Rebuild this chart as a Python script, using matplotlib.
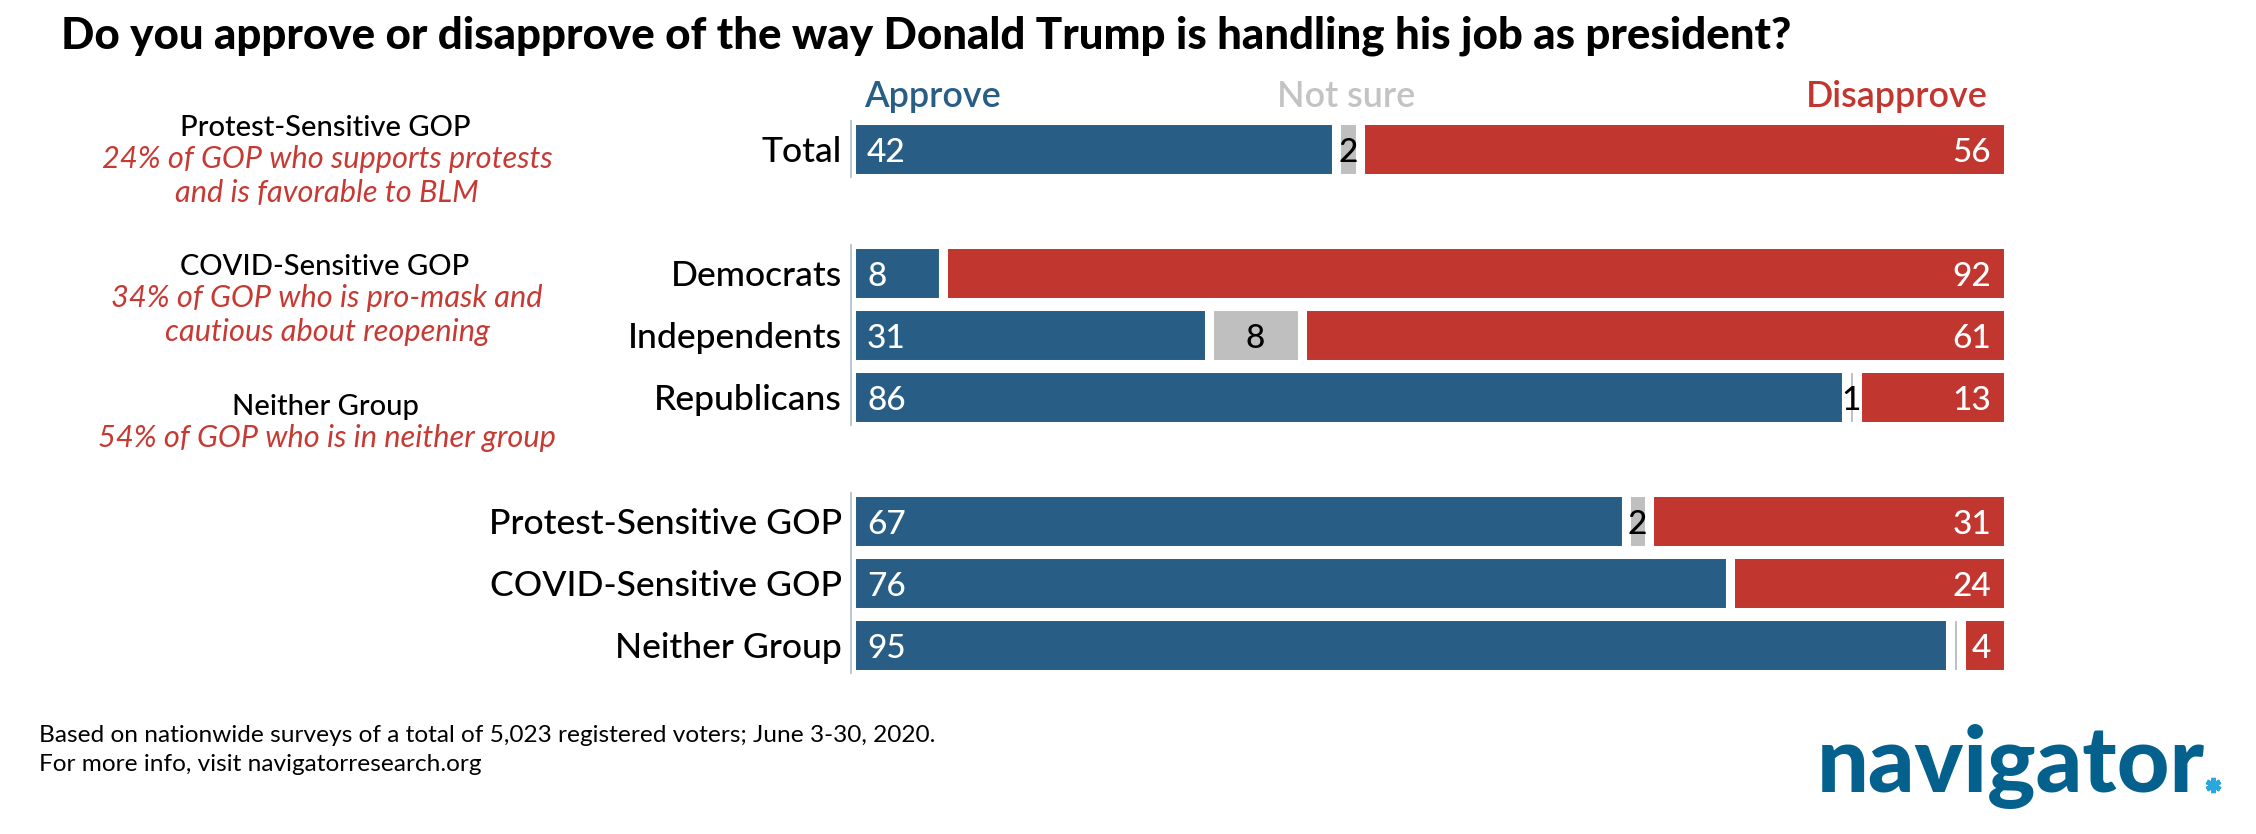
import matplotlib
matplotlib.use("Agg")
import matplotlib.pyplot as plt
from matplotlib.lines import Line2D

# ---------------- data ----------------
title = "Do you approve or disapprove of the way Donald Trump is handling his job as president?"
groups = [
    ["Total"],
    ["Democrats", "Independents", "Republicans"],
    ["Protest-Sensitive GOP", "COVID-Sensitive GOP", "Neither Group"],
]
approve = [42, 8, 31, 86, 67, 76, 95]
not_sure = [2, 0, 8, 1, 2, 0, 1]
disapprove = [56, 92, 61, 13, 31, 24, 4]
notsure_labels = ["2", "", "8", "1", "2", "", ""]
series_names = ["Approve", "Not sure", "Disapprove"]

notes = [
    ("Protest-Sensitive GOP", ["24% of GOP who supports protests", "and is favorable to BLM"]),
    ("COVID-Sensitive GOP", ["34% of GOP who is pro-mask and", "cautious about reopening"]),
    ("Neither Group", ["54% of GOP who is in neither group"]),
]
footnotes = [
    "Based on nationwide surveys of a total of 5,023 registered voters; June 3-30, 2020.",
    "For more info, visit navigatorresearch.org",
]
logo_text = "navigator"

# ---------------- style ----------------
BLUE = "#285E86"
RED = "#C1362F"
GRAY = "#BFBFBF"
NOTE_RED = "#C73A34"
LOGO_BLUE = "#04608C"
LOGO_STAR = "#29A8DF"
FONT = "Lato"

W, H = 2256, 834
fig = plt.figure(figsize=(W / 100, H / 100), dpi=100)
fig.patch.set_facecolor("white")


def fx(x):
    return x / W


def fy(y):
    return 1 - y / H


renderer = fig.canvas.get_renderer()


def fit(t, width):
    for _ in range(3):
        bb = t.get_window_extent(renderer)
        t.set_fontsize(t.get_fontsize() * width / bb.width)
    return t.get_fontsize()


# row positions derived from group structure (one empty row between groups)
categories, ypos = [], []
r = 0
for g in groups:
    for c in g:
        categories.append(c)
        ypos.append(r)
        r += 1
    r += 1
last_row = ypos[-1]

# axes: data 0..100 spans the bar area
ax_left, ax_right = 850.5, 2007.5
row_px = 62
top_px = 149 - row_px / 2
bot_px = top_px + row_px * (last_row + 1)
ax = fig.add_axes([fx(ax_left), fy(bot_px), (ax_right - ax_left) / W, (bot_px - top_px) / H])
ax.set_xlim(0, 100)
ax.set_ylim(last_row + 0.5, -0.5)
ax.axis("off")

bh = 0.92
lw = 6.5
left2 = [a + n for a, n in zip(approve, not_sure)]
ax.barh(ypos, approve, left=0, height=bh, color=BLUE, edgecolor="white", linewidth=lw, zorder=2)
ax.barh(ypos, not_sure, left=approve, height=bh, color=GRAY, edgecolor="white", linewidth=lw, zorder=2)
ax.barh(ypos, disapprove, left=left2, height=bh, color=RED, edgecolor="white", linewidth=lw, zorder=2)

# vertical axis line per group
i = 0
for g in groups:
    first = ypos[i]
    last = ypos[i + len(g) - 1]
    ax.plot([0, 0], [first - 0.45, last + 0.45], color="#B4C3CF", lw=1.3,
            clip_on=False, zorder=5)
    i += len(g)

px = 100 / (ax_right - ax_left)  # data units per pixel
val_fs = 24
base_off = 0.215
for k, y in enumerate(ypos):
    ax.text(16.5 * px, y + base_off, str(approve[k]), ha="left", va="baseline",
            color="white", fontsize=val_fs, family=FONT, weight="medium", zorder=6)
    ax.text(100 - 16.5 * px, y + base_off, str(disapprove[k]), ha="right", va="baseline",
            color="white", fontsize=val_fs, family=FONT, weight="medium", zorder=6)
    if notsure_labels[k]:
        ax.text(approve[k] + not_sure[k] / 2, y + base_off, notsure_labels[k], ha="center",
                va="baseline", color="black", fontsize=val_fs, family=FONT,
                weight="medium", zorder=6)

# category labels
cat_texts = []
for k, y in enumerate(ypos):
    t = ax.text(-8.5 * px, y + 0.21, categories[k], ha="right", va="baseline",
                color="black", fontsize=26, family=FONT, weight="medium")
    cat_texts.append(t)
cfs = fit(cat_texts[4], 353)
for t in cat_texts:
    t.set_fontsize(cfs)

# title
tt = fig.text(fx(61), fy(48), title, ha="left", va="baseline", fontsize=30,
              family=FONT, weight="black", color="black")
fit(tt, 1736)

# series headers
h_ap = fig.text(fx(864), fy(107), series_names[0], ha="left", va="baseline",
                color=BLUE, family=FONT, weight="semibold", fontsize=24)
h_ns = fig.text(fx(1346), fy(107), series_names[1], ha="center", va="baseline",
                color="#C3C3C3", family=FONT, weight="semibold", fontsize=24)
h_di = fig.text(fx(1988), fy(107), series_names[2], ha="right", va="baseline",
                color=RED, family=FONT, weight="semibold", fontsize=24)
hfs = fit(h_ns, 138)
h_ap.set_fontsize(hfs)
h_di.set_fontsize(hfs)

# left notes
block_base = [136, 275, 415]
note_heads, note_subs = [], []
for b, (head, subs) in zip(block_base, notes):
    t = fig.text(fx(325), fy(b), head, ha="center", va="baseline", color="black",
                 family=FONT, weight="medium", fontsize=20)
    note_heads.append(t)
    for j, s in enumerate(subs):
        t2 = fig.text(fx(327), fy(b + 32 + 34 * j), s, ha="center", va="baseline",
                      color=NOTE_RED, family=FONT, style="italic", fontsize=20)
        note_subs.append(t2)
nh = fit(note_heads[0], 291)
for t in note_heads:
    t.set_fontsize(nh)
ns = fit(note_subs[0], 450)
for t in note_subs:
    t.set_fontsize(ns)

# footnotes
f1 = fig.text(fx(39), fy(742), footnotes[0], ha="left", va="baseline",
              color="black", family=FONT, fontsize=16)
f2 = fig.text(fx(39), fy(771), footnotes[1], ha="left", va="baseline",
              color="black", family=FONT, fontsize=16)
ffs = fit(f1, 895)
f2.set_fontsize(ffs)

# logo
lg = fig.text(fx(1817), fy(792), logo_text, ha="left", va="baseline",
              color=LOGO_BLUE, family=FONT, weight="black", fontsize=50)
fit(lg, 388)
fig.add_artist(Line2D([fx(2213)], [fy(785)], marker=(6, 2, 0), markersize=11,
                      markeredgewidth=3.5, color=LOGO_STAR, transform=fig.transFigure))

fig.savefig("out.png", dpi=100, facecolor="white")
